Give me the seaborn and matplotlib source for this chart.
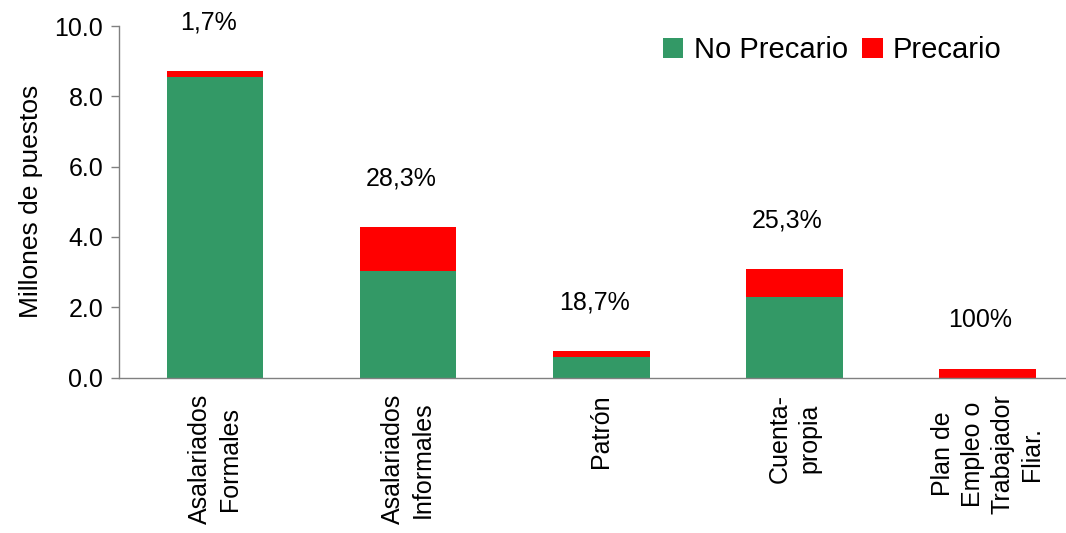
import numpy as np
import pandas as pd
import matplotlib
matplotlib.use("Agg")
import matplotlib.pyplot as plt
import seaborn as sns

categorias = ['Asalariados\nFormales', 'Asalariados\nInformales', 'Patrón',
              'Cuenta-\npropia', 'Plan de\nEmpleo o\nTrabajador\nFliar.']
no_precario = [8.55, 3.03, 0.58, 2.29, 0.0]
precario = [0.17, 1.24, 0.17, 0.80, 0.24]
porcentajes = ['1,7%', '28,3%', '18,7%', '25,3%', '100%']

verde = '#339966'
rojo = '#FF0000'
gris = '#808080'

sns.set_style('white')
plt.rcParams['font.family'] = ['Liberation Sans', 'DejaVu Sans']
plt.rcParams['text.color'] = 'black'
plt.rcParams['axes.labelcolor'] = 'black'
plt.rcParams['xtick.labelcolor'] = 'black'
plt.rcParams['ytick.labelcolor'] = 'black'

df = pd.DataFrame({'cat': categorias, 'no_prec': no_precario, 'prec': precario})
df['total'] = df['no_prec'] + df['prec']

fig = plt.figure(figsize=(10.66, 5.33), dpi=100)
ax = fig.add_axes([0.1112, 0.2917, 0.9057, 0.6595])

sns.barplot(data=df, x='cat', y='total', color=rojo, width=0.5, saturation=1,
            linewidth=0, ax=ax, label='Precario')
sns.barplot(data=df, x='cat', y='no_prec', color=verde, width=0.5, saturation=1,
            linewidth=0, ax=ax, label='No Precario')

ax.set_xlim(-0.5, 4.5)
ax.set_ylim(0, 10)
ax.set_yticks(np.arange(0, 10.1, 2))
ax.set_yticklabels([f'{v:.1f}' for v in np.arange(0, 10.1, 2)], fontsize=18,
                   color='black')
ax.set_ylabel('Millones de puestos', fontsize=19, labelpad=8, color='black')
ax.set_xlabel('')

ax.set_xticks(range(len(categorias)))
ax.set_xticklabels(categorias, rotation=90, fontsize=18, ha='center', va='top',
                   multialignment='center', linespacing=1.3, color='black')
ax.set_xticks(np.arange(-0.5, 5, 1), minor=True)
ax.tick_params(axis='x', which='major', length=0, pad=12)
ax.tick_params(axis='x', which='minor', length=6, direction='out', color=gris, width=1)
ax.tick_params(axis='y', length=6, direction='out', color=gris, width=1, left=True, pad=5)

for s in ['top', 'right']:
    ax.spines[s].set_visible(False)
for s in ['left', 'bottom']:
    ax.spines[s].set_color(gris)
    ax.spines[s].set_linewidth(1)

for i, (tot, txt) in enumerate(zip(df['total'], porcentajes)):
    ax.annotate(txt, (i, tot), xytext=(-5, 35), textcoords='offset points',
                ha='center', va='center', fontsize=18, color='black')

handles, labels = ax.get_legend_handles_labels()
orden = [labels.index('No Precario'), labels.index('Precario')]
ax.legend([handles[k] for k in orden], [labels[k] for k in orden],
          loc='center left', bbox_to_anchor=(0.622, 0.906),
          bbox_transform=fig.transFigure, ncol=2, frameon=False,
          borderpad=0, borderaxespad=0, labelcolor='black',
          fontsize=21, handlelength=0.7, handleheight=0.7, handletextpad=0.35,
          columnspacing=0.5)

fig.savefig('out.png', dpi=100)
